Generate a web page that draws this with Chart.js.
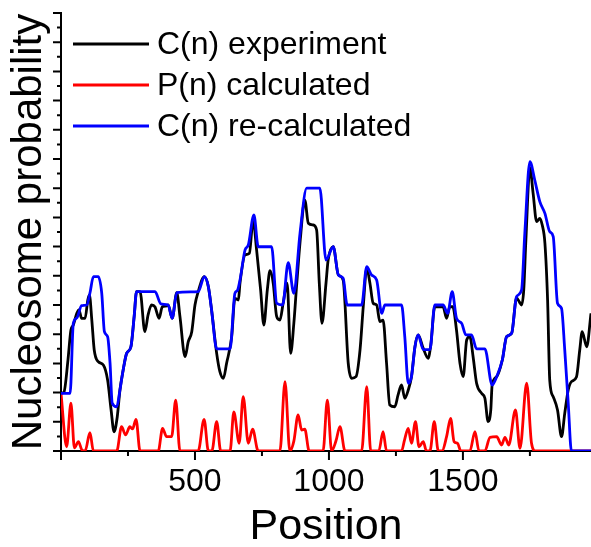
<!DOCTYPE html>
<html>
<head>
<meta charset="utf-8">
<script src="https://cdn.jsdelivr.net/npm/chart.js@4.4.1/dist/chart.umd.min.js"></script>
<style>
  html, body { margin: 0; padding: 0; background: #fff; }
  #wrap { width: 591px; height: 547px; }
</style>
</head>
<body>
<div id="wrap"><canvas id="nucChart" width="591" height="547"></canvas></div>
<script>
// C(n) experiment (black)
const expPos = [
  0, 11, 26, 37, 46, 59, 67, 77, 90, 100,
  106, 115, 124, 139, 158, 174, 187, 198, 210, 220,
  232, 245, 261, 273, 282, 295, 313, 325, 338, 351,
  366, 378, 392, 400, 415, 432, 444, 463, 475, 488,
  500, 512, 535, 550, 562, 581, 593, 606, 618, 637,
  649, 662, 668, 687, 703, 717, 730, 745, 757, 770,
  780, 792, 805, 817, 829, 844, 857, 869, 879, 894,
  910, 923, 941, 954, 964, 974, 989, 997, 1016, 1035,
  1053, 1072, 1085, 1101, 1116, 1128, 1141, 1153, 1165, 1178,
  1190, 1202, 1215, 1227, 1246, 1258, 1271, 1283, 1296, 1308,
  1321, 1333, 1352, 1370, 1380, 1395, 1426, 1439, 1451, 1462,
  1476, 1489, 1501, 1514, 1526, 1538, 1551, 1570, 1582, 1594,
  1604, 1609, 1626, 1647, 1663, 1682, 1700, 1711, 1719, 1727,
  1735, 1750, 1762, 1775, 1787, 1796, 1806, 1816, 1824, 1837,
  1853, 1868, 1880, 1893, 1905, 1924, 1936, 1945, 1962, 1978
];
const expVal = [
  3.95, 4.04, 6.23, 8.29, 8.63, 9.43, 9.66, 9.09, 9.09, 10.34,
  10.69, 8.97, 6.92, 6.12, 5.89, 4.86, 2.81, 1.32, 2.35, 4.18,
  5.55, 6.69, 7.14, 9.2, 10.91, 10.91, 8.17, 9.32, 10.0, 9.86,
  9.09, 9.88, 9.93, 10.0, 9.09, 10.84, 9.2, 6.46, 7.49, 8.17,
  10.0, 10.91, 11.94, 11.25, 9.66, 6.69, 5.43, 4.98, 6.01, 7.83,
  10.46, 10.34, 11.5, 13.43, 13.54, 15.82, 13.77, 11.03, 8.63, 11.03,
  12.35, 11.49, 9.2, 8.97, 10.12, 11.49, 6.69, 8.75, 11.25, 14.68,
  17.19, 15.6, 15.48, 15.14, 11.49, 8.75, 11.49, 13.08, 13.99, 12.06,
  11.71, 6.01, 4.98, 5.09, 6.92, 9.88, 12.52, 11.49, 10.12, 10.0,
  8.86, 8.97, 6.01, 3.15, 3.03, 3.84, 4.52, 3.61, 4.18, 5.09,
  7.14, 7.95, 7.03, 6.35, 7.26, 9.88, 9.88, 9.09, 9.88, 9.88,
  8.29, 6.01, 5.09, 7.6, 7.83, 6.46, 4.64, 3.95, 3.61, 2.01,
  2.81, 4.52, 5.09, 6.23, 7.83, 8.06, 10.48, 10.2, 10.0, 11.03,
  14.45, 19.39, 17.65, 15.71, 15.94, 15.48, 14.23, 10.34, 4.86, 3.72,
  2.81, 0.98, 2.58, 4.18, 4.75, 5.09, 6.92, 8.17, 7.14, 9.43
];

// P(n) calculated (red)
const calcPos = [
  0, 21, 37, 50, 65, 78, 90, 108, 121, 208,
  226, 241, 257, 267, 280, 295, 363, 379, 394, 413,
  428, 444, 512, 534, 550, 563, 581, 596, 631, 645,
  665, 680, 699, 715, 736, 817, 836, 854, 869, 885,
  898, 910, 926, 978, 994, 1010, 1026, 1041, 1060, 1122,
  1141, 1156, 1186, 1202, 1215, 1271, 1282, 1296, 1308, 1323,
  1336, 1352, 1364, 1377, 1393, 1408, 1422, 1439, 1454, 1467,
  1480, 1492, 1526, 1545, 1560, 1582, 1601, 1626, 1644, 1657,
  1671, 1696, 1713, 1738, 1756, 1771, 1978
];
const calcVal = [
  3.95, 0.29, 3.27, 0.21, 0.64, 0.07, 0, 1.25, 0, 0,
  1.66, 1.1, 1.66, 1.51, 2.17, 0, 0, 1.55, 0.98, 0.98,
  3.49, 0, 0, 2.17, 0, 0, 2.01, 0, 0, 2.67,
  0.53, 3.72, 0.53, 1.49, 0, 0, 4.75, 0, 0.68, 2.47,
  1.44, 1.49, 0, 0, 3.49, 0, 0.68, 1.66, 0, 0,
  4.4, 0, 0, 1.32, 0, 0, 0.75, 1.55, 0.53, 2.01,
  0.29, 0.64, 0, 0, 2.01, 0, 0, 0.98, 2.24, 0.64,
  0.53, 0, 0, 1.32, 0, 0, 0.94, 0.98, 0.41, 0.94,
  0.41, 2.81, 0.18, 4.64, 0.53, 0, 0
];

// C(n) re-calculated (blue)
const recPos = [
  0, 34, 46, 59, 77, 96, 108, 121, 139, 152,
  162, 174, 183, 191, 208, 220, 232, 245, 261, 273,
  282, 351, 373, 400, 415, 432, 512, 535, 550, 562,
  581, 631, 649, 658, 668, 687, 699, 720, 736, 786,
  805, 827, 848, 869, 892, 917, 966, 989, 1016, 1035,
  1053, 1068, 1122, 1141, 1159, 1178, 1197, 1209, 1271, 1283,
  1296, 1308, 1321, 1333, 1352, 1377, 1395, 1426, 1443, 1460,
  1476, 1495, 1511, 1532, 1551, 1582, 1609, 1626, 1647, 1663,
  1682, 1700, 1719, 1731, 1750, 1768, 1787, 1806, 1824, 1837,
  1853, 1868, 1880, 1893, 1905, 1978
];
const recVal = [
  3.95, 3.95, 8.75, 9.11, 9.95, 10.0, 10.82, 11.94, 11.94, 10.82,
  8.17, 7.83, 6.03, 3.29, 3.03, 4.18, 5.55, 6.69, 7.14, 9.2,
  10.91, 10.91, 10.07, 10.0, 9.09, 10.84, 10.91, 11.94, 11.25, 9.66,
  7.0, 7.0, 10.8, 10.98, 11.71, 13.77, 14.11, 16.17, 13.99, 13.99,
  10.12, 10.0, 12.9, 10.8, 14.91, 18.0, 18.0, 13.08, 13.99, 12.06,
  11.83, 10.0, 10.0, 12.62, 12.06, 11.71, 9.43, 10.0, 10.0, 7.83,
  4.64, 5.09, 7.14, 7.95, 6.95, 6.95, 10.0, 10.0, 9.43, 10.91,
  9.09, 8.75, 7.95, 7.95, 7.0, 7.0, 4.52, 5.09, 6.23, 7.83,
  8.06, 10.57, 11.03, 14.91, 19.82, 18.56, 17.08, 16.28, 15.02, 14.68,
  10.12, 9.77, 6.92, 3.27, 0, 0
];

const seriesLabels = ['C(n) experiment', 'P(n) calculated', 'C(n) re-calculated'];
const seriesColors = ['#000000', '#ff0000', '#0000ff'];

const xTickLabels = [500, 1000, 1500];
const xMinorTicks = [0, 250, 750, 1250, 1750];
const xMax = 1978;
const yMax = 30;

const FONT = "'Liberation Sans', Arial, sans-serif";
Chart.defaults.font.family = FONT;
Chart.defaults.color = '#000';

function toPoints(pos, val) {
  return pos.map((p, i) => ({ x: p, y: val[i] }));
}

// Tick marks: long for major, short for minor, drawn outside the axes
const axisTicks = {
  id: 'axisTicks',
  afterDraw(chart) {
    const { ctx, chartArea, scales } = chart;
    ctx.save();
    ctx.strokeStyle = '#000';
    ctx.lineWidth = 2;
    ctx.beginPath();
    [0].concat(xTickLabels).forEach(v => {
      const px = scales.x.getPixelForValue(v);
      ctx.moveTo(px, chartArea.bottom);
      ctx.lineTo(px, chartArea.bottom + 9);
    });
    xMinorTicks.filter(v => v > 0).forEach(v => {
      const px = scales.x.getPixelForValue(v);
      ctx.moveTo(px, chartArea.bottom);
      ctx.lineTo(px, chartArea.bottom + 5);
    });
    for (let v = 0; v <= yMax; v++) {
      const py = scales.y.getPixelForValue(v);
      const len = v % 2 === 0 ? 8 : 4;
      ctx.moveTo(chartArea.left - len, py);
      ctx.lineTo(chartArea.left, py);
    }
    ctx.stroke();
    ctx.restore();
  }
};

// Legend sitting inside the plot, top left
const insideLegend = {
  id: 'insideLegend',
  afterDraw(chart) {
    const { ctx } = chart;
    ctx.save();
    ctx.font = '32px ' + FONT;
    ctx.textBaseline = 'middle';
    chart.data.datasets.forEach((ds, i) => {
      const y = 44 + i * 41;
      ctx.strokeStyle = ds.borderColor;
      ctx.lineWidth = 2.8;
      ctx.beginPath();
      ctx.moveTo(73, y);
      ctx.lineTo(149, y);
      ctx.stroke();
      ctx.fillStyle = '#000';
      ctx.fillText(ds.label, 157, y + 1);
    });
    ctx.restore();
  }
};

const ctx = document.getElementById('nucChart').getContext('2d');

new Chart(ctx, {
  type: 'line',
  data: {
    datasets: [
      { label: seriesLabels[0], data: toPoints(expPos, expVal), borderColor: seriesColors[0], order: 3 },
      { label: seriesLabels[1], data: toPoints(calcPos, calcVal), borderColor: seriesColors[1], order: 2 },
      { label: seriesLabels[2], data: toPoints(recPos, recVal), borderColor: seriesColors[2], order: 1 }
    ]
  },
  options: {
    responsive: false,
    devicePixelRatio: 1,
    animation: false,
    layout: { padding: { top: 13, right: 0, bottom: 0, left: 0 } },
    elements: {
      line: { borderWidth: 2.8, fill: false, cubicInterpolationMode: 'monotone' },
      point: { radius: 0, hoverRadius: 0 }
    },
    plugins: {
      legend: { display: false },
      tooltip: { enabled: false }
    },
    scales: {
      x: {
        type: 'linear',
        min: 0,
        max: xMax,
        afterFit: s => { s.height = 96; },
        afterBuildTicks: s => { s.ticks = xTickLabels.map(v => ({ value: v })); },
        ticks: {
          color: '#000',
          font: { size: 32 },
          padding: 12,
          autoSkip: false,
          maxRotation: 0,
          callback: v => String(v)
        },
        grid: { display: false, drawTicks: false },
        border: { display: true, color: '#000', width: 2 },
        title: {
          display: true,
          text: 'Position',
          color: '#000',
          font: { size: 43, lineHeight: 0.92 },
          padding: 0
        }
      },
      y: {
        min: 0,
        max: yMax,
        afterFit: s => { s.width = 61; },
        ticks: { display: false },
        grid: { display: false, drawTicks: false },
        border: { display: true, color: '#000', width: 2 },
        title: {
          display: true,
          text: 'Nucleosome probability',
          color: '#000',
          font: { size: 42, lineHeight: 1 },
          padding: { top: 8, bottom: 0 }
        }
      }
    }
  },
  plugins: [axisTicks, insideLegend]
});
</script>
</body>
</html>
